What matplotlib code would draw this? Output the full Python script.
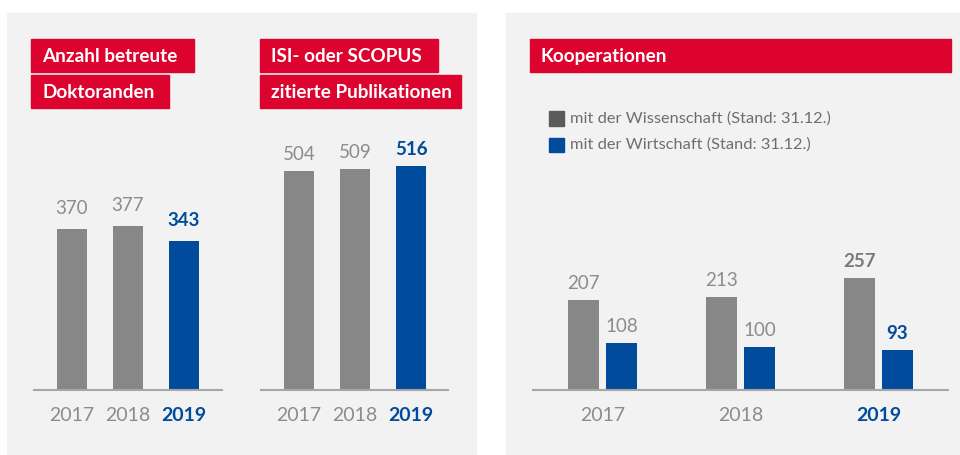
import numpy as np
import matplotlib.pyplot as plt
from matplotlib.patches import Rectangle

plt.rcParams['font.family'] = ['Lato', 'DejaVu Sans']

years = ['2017', '2018', '2019']
doktoranden = [370, 377, 343]
publikationen = [504, 509, 516]
koop_wissenschaft = [207, 213, 257]
koop_wirtschaft = [108, 100, 93]
legend_labels = ['mit der Wissenschaft (Stand: 31.12.)', 'mit der Wirtschaft (Stand: 31.12.)']

GREY = '#878787'
BLUE = '#004b9b'
RED = '#dc042e'
PANEL = '#f2f2f2'
TXT = '#8c8c8c'
SCALE = 0.435  # px per unit

W, H = 960, 455
fig = plt.figure(figsize=(W / 100, H / 100), dpi=100)


def fx(x):
    return x / W


def fy(y):
    return 1 - y / H


def box(x0, y0, x1, y1, color, z=-2):
    fig.patches.append(Rectangle((fx(x0), fy(y1)), fx(x1) - fx(x0), fy(y0) - fy(y1),
                                 transform=fig.transFigure, color=color, zorder=z))


def red_label(x0, y0, x1, y1, text):
    box(x0, y0, x1, y1, RED, -1)
    fig.text(fx(x0 + 11), fy((y0 + y1) / 2 + 1), text, color='white', fontsize=13.6,
             fontweight='bold', va='center', ha='left', zorder=2)


def make_axes(x0, x1, base, top=120):
    ax = fig.add_axes([fx(x0), fy(base), fx(x1) - fx(x0), fy(top) - fy(base)])
    ax.set_facecolor('none')
    ax.set_ylim(0, (base - top) / SCALE)
    for s in ['top', 'right', 'left']:
        ax.spines[s].set_visible(False)
    ax.spines['bottom'].set_color('#a6a6a6')
    ax.spines['bottom'].set_linewidth(1.5)
    ax.set_yticks([])
    ax.tick_params(axis='x', length=0, pad=12)
    return ax


def style_years(ax):
    for i, lab in enumerate(ax.get_xticklabels()):
        lab.set_fontsize(14)
        if i == 2:
            lab.set_color(BLUE)
            lab.set_fontweight('bold')
        else:
            lab.set_color(TXT)


def value_labels(ax, xs, vals, gap, highlight, hl_color=BLUE):
    for i, (x, v) in enumerate(zip(xs, vals)):
        hl = i in highlight
        ax.annotate(str(v), (x, v), xytext=(0, gap * 0.72), textcoords='offset points',
                    ha='center', va='baseline', fontsize=13.5,
                    color=hl_color if hl else TXT, fontweight='bold' if hl else 'normal')


# panels
box(7, 13, 476, 454, PANEL)
box(506, 13, 960, 454, PANEL)

red_label(31, 39, 194, 72, 'Anzahl betreute')
red_label(31, 75, 169, 108, 'Doktoranden')
red_label(260, 39, 438, 72, 'ISI- oder SCOPUS')
red_label(260, 75, 461, 108, 'zitierte Publikationen')
red_label(530, 39, 951, 72, 'Kooperationen')

x = np.arange(3)
cols = [GREY, GREY, BLUE]

# chart 1
ax1 = make_axes(34, 222, 390)
ax1.bar(x, doktoranden, width=30 / 56, color=cols)
ax1.set_xlim(-38 / 56, 2 + 38 / 56)
ax1.set_xticks(x, years)
style_years(ax1)
value_labels(ax1, x, doktoranden, 15, [2])

# chart 2
ax2 = make_axes(261, 448, 390)
ax2.bar(x, publikationen, width=30 / 56, color=cols)
ax2.set_xlim(-38 / 56, 2 + 37 / 56)
ax2.set_xticks(x, years)
style_years(ax2)
value_labels(ax2, x, publikationen, 11, [2])

# chart 3
ax3 = make_axes(533, 948, 390)
bw = 31 / 138
off = 19 / 138
ax3.bar(x - off, koop_wissenschaft, width=bw, color=GREY)
ax3.bar(x + off, koop_wirtschaft, width=bw, color=BLUE)
ax3.set_xlim(-69.5 / 138, 2 + 69.5 / 138)
ax3.set_xticks(x, years)
style_years(ax3)
value_labels(ax3, x - off, koop_wissenschaft, 11, [2], hl_color='#7a7a7a')
value_labels(ax3, x + off, koop_wirtschaft, 11, [2])

# legend
leg_colors = ['#5b5b5b', BLUE]
for i, (c, lab) in enumerate(zip(leg_colors, legend_labels)):
    yc = 118.5 + i * 26.5
    box(549, yc - 7.5, 564, yc + 7.5, c, -1)
    fig.text(fx(570), fy(yc), lab, color='#6e6e6e', fontsize=11.8, va='center', ha='left')

fig.savefig('out.png', dpi=100)
